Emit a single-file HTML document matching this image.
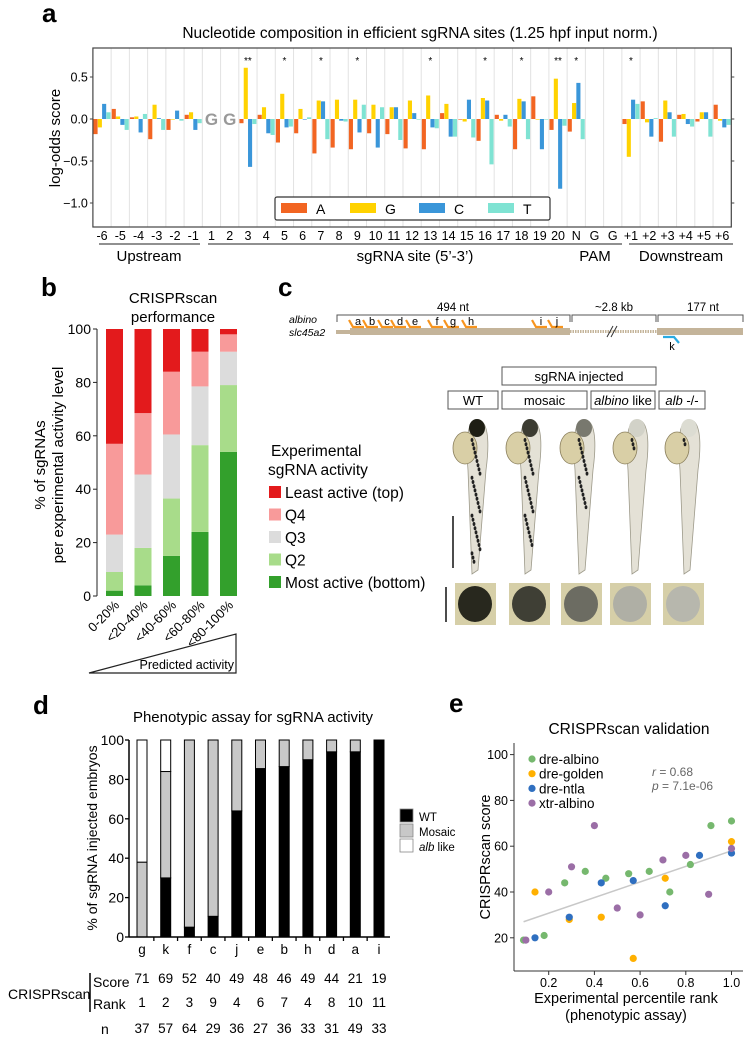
<!DOCTYPE html>
<html><head><meta charset="utf-8">
<style>
html,body{margin:0;padding:0;background:#fff;}
svg{display:block;font-family:"Liberation Sans",Arial,sans-serif;}
</style></head>
<body>
<svg id="fig" width="753" height="1046" viewBox="0 0 753 1046" xmlns="http://www.w3.org/2000/svg">
<text x="42" y="22" font-size="26" font-weight="bold">a</text>
<text x="41" y="296" font-size="26" font-weight="bold">b</text>
<text x="278" y="296" font-size="26" font-weight="bold">c</text>
<text x="33" y="714" font-size="26" font-weight="bold">d</text>
<text x="449" y="712" font-size="26" font-weight="bold">e</text>

<g id="pa"></g>
<g id="pb"></g>
<g id="pc"></g>
<g id="pd"></g>
<g id="pe"></g>
</svg>
<script>
const NS='http://www.w3.org/2000/svg';
function mk(tag,attrs,parent){const e=document.createElementNS(NS,tag);for(const k in attrs)e.setAttribute(k,attrs[k]);parent.appendChild(e);return e;}
function tx(str,attrs,parent){const e=mk('text',attrs,parent);e.textContent=str;return e;}

/* ================= PANEL A ================= */
const aCols=['-6','-5','-4','-3','-2','-1','1','2','3','4','5','6','7','8','9','10','11','12','13','14','15','16','17','18','19','20','N','G','G','+1','+2','+3','+4','+5','+6'];
const aValsA=[-0.18,0.12,0.02,-0.24,-0.13,0.05,null,null,-0.05,0.05,-0.28,-0.17,-0.41,-0.34,-0.36,-0.17,-0.18,-0.35,-0.36,0.07,0,-0.26,0.05,-0.36,0.27,-0.13,-0.15,null,null,-0.06,0.21,-0.27,0.05,-0.03,0.17];
const aValsG=[-0.10,0.03,0.03,0.17,0,0.08,null,null,0.61,0.14,0.30,0.12,0.22,0.23,0.23,0.17,0.14,0.22,0.28,0.18,-0.03,0.25,-0.02,0.24,0,0.48,0.19,null,null,-0.45,-0.04,0.22,0.06,0.08,-0.02];
const aValsC=[0.18,-0.07,-0.16,0.01,0.10,-0.13,null,null,-0.57,-0.17,-0.10,0,0.21,-0.02,-0.16,-0.34,0.14,0.07,-0.10,-0.21,0.23,0.22,0.05,0.21,-0.36,-0.83,0.43,null,null,0.23,-0.21,0.08,-0.06,0.08,-0.10];
const aValsT=[0.08,-0.13,0.06,-0.13,-0.02,-0.05,null,null,-0.06,-0.19,-0.09,0.02,-0.24,-0.03,0.17,0.14,-0.25,0,-0.11,-0.21,-0.22,-0.54,-0.09,-0.24,0,-0.08,-0.24,null,null,0.18,0.01,-0.21,-0.09,-0.21,-0.07];
const aStars=['','','','','','','','','**','','*','','*','','*','','','','*','','','*','','*','','**','*','','','*','','','','',''];
const aYTicks=[0.5,0,-0.5,-1.0];
const aYTickLabels=['0.5','0.0','\u22120.5','\u22121.0'];
const aNucs=['A','G','C','T'];
(function(){
 const g=document.getElementById('pa');
 const L=92.9,W=18.24,T=48,B=227,R=L+35*W;
 const y=v=>119-v*84, x=i=>L+i*W;
 const cols=['#f26522','#ffd200','#3a96d9','#7fe3d3'];
 const series=[aValsA,aValsG,aValsC,aValsT];
 let t=tx('Nucleotide composition in efficient sgRNA sites (1.25 hpf input norm.)',{x:420,y:38,'font-size':15.5,'text-anchor':'middle'},g);
 
 
 for(let i=1;i<35;i++){const l=mk('line',{x1:x(i),x2:x(i),y1:T,y2:B,stroke:'#e2e2e2','stroke-width':1},g);
  
  }
 aCols.forEach((c,i)=>{
  series.forEach((s,j)=>{
   const v=s[i]; if(v===null) return;
   const y0=y(0),y1=y(v);
   const r=mk('rect',{x:x(i)+0.6+j*4.3,y:Math.min(y0,y1),width:4.1,height:Math.max(0.6,Math.abs(y1-y0)),fill:cols[j]},g);
   
   
  });
  if(aStars[i]){const s=tx(aStars[i],{x:x(i)+W/2,y:64,'font-size':10,'text-anchor':'middle'},g);
   
   }
  const lb=tx(c,{x:x(i)+W/2,y:240,'font-size':12.5,'text-anchor':'middle'},g);
  
  
 });
 [6,7].forEach(i=>{const gg=tx('G',{x:x(i)+W/2,y:125,'font-size':17,'font-weight':'bold',fill:'#999','text-anchor':'middle'},g);
  
  });
 const fr=mk('rect',{x:L,y:T,width:R-L,height:B-T,fill:'none',stroke:'#444','stroke-width':1.2},g);
 
 
 aYTicks.forEach((v,k)=>{
  const tk=mk('line',{x1:L-3,x2:L,y1:y(v),y2:y(v),stroke:'#444'},g);
  
  
  const tk2=mk('line',{x1:R,x2:R+3,y1:y(v),y2:y(v),stroke:'#444'},g);
  
  
  const lb=tx(aYTickLabels[k],{x:L-5,y:y(v)+4.5,'font-size':12.5,'text-anchor':'end'},g);
  
  
 });
 const yl=tx('log-odds score',{x:0,y:0,'font-size':15,'text-anchor':'middle',transform:'translate(60,138) rotate(-90)'},g);
 
 
 const lg=mk('rect',{x:275,y:197,width:275,height:23,rx:2,fill:'#fff',stroke:'#333','stroke-width':1.2},g);
 
 
 aNucs.forEach((n,j)=>{
  const sw=mk('rect',{x:281+j*69,y:203,width:26,height:10,fill:cols[j]},g);
  
  
  const lt=tx(n,{x:316+j*69,y:214,'font-size':14},g);
  
  
 });
 const groups=[['Upstream',99,200,149],['sgRNA site (5\u2019-3\u2019)',208,622,415],['PAM',0,0,595],['Downstream',629,733,681]];
 groups.forEach(gr=>{
  if(gr[2]){const l=mk('line',{x1:gr[1],x2:gr[2],y1:244,y2:244,stroke:'#222','stroke-width':1},g);
   
   }
  const t=tx(gr[0],{x:gr[3],y:261,'font-size':15,'text-anchor':'middle'},g);
  
  
 });
})();

/* ================= PANEL B ================= */
const bCats=['0-20%','<20-40%','<40-60%','<60-80%','<80-100%'];
const bMost=[2,4,15,24,54];
const bQ2=[7,14,21.5,32.5,25];
const bQ3=[14,27.5,24,22,12.5];
const bQ4=[34,23,23.5,13,6.5];
const bLeast=[43,31.5,16,8.5,2];
const bTicks=[0,20,40,60,80,100];
(function(){
 const g=document.getElementById('pb');
 const y=v=>596-v*2.67;
 const series=[bMost,bQ2,bQ3,bQ4,bLeast];
 const cols=['#33a02c','#a8dc8a','#dcdcdc','#f89a9a','#e31a1c'];
 const names=['most-active','q2','q3','q4','least-active'];
 let t=tx('CRISPRscan',{x:173,y:303,'font-size':15,'text-anchor':'middle'},g);
 
 
 t=tx('performance',{x:173,y:322,'font-size':15,'text-anchor':'middle'},g);
 
 
 bCats.forEach((c,i)=>{
  let acc=0; const bx=106+i*28.5;
  series.forEach((s,j)=>{
   const r=mk('rect',{x:bx,y:y(acc+s[i]),width:17,height:s[i]*2.67,fill:cols[j]},g);
   
   
   acc+=s[i];
  });
  const lb=tx(c,{x:0,y:0,'font-size':13,'text-anchor':'end',transform:'translate('+(bx+14)+',606) rotate(-45)'},g);
  
  
 });
 const ax=mk('line',{x1:97,x2:97,y1:329,y2:596,stroke:'#222'},g);
 
 
 bTicks.forEach(v=>{
  const tk=mk('line',{x1:93,x2:97,y1:y(v),y2:y(v),stroke:'#222'},g);
  
  
  const lb=tx(String(v),{x:91,y:y(v)+5,'font-size':14,'text-anchor':'end'},g);
  
  
 });
 t=tx('% of sgRNAs',{x:0,y:0,'font-size':15,'text-anchor':'middle',transform:'translate(45,465) rotate(-90)'},g);
 
 
 t=tx('per experimental activity level',{x:0,y:0,'font-size':15,'text-anchor':'middle',transform:'translate(63,465) rotate(-90)'},g);
 
 
 const tri=mk('path',{d:'M89,673 L236,673 L236,634 Z',fill:'none',stroke:'#222','stroke-width':1.2},g);
 
 
 t=tx('Predicted activity',{x:234,y:669,'font-size':12.5,'text-anchor':'end'},g);
 
 
 t=tx('Experimental',{x:271,y:456,'font-size':15.5},g);
 
 
 t=tx('sgRNA activity',{x:268,y:475,'font-size':15.5},g);
 
 
 const legNames=['Least active (top)','Q4','Q3','Q2','Most active (bottom)'];
 const legCols=['#e31a1c','#f89a9a','#dcdcdc','#a8dc8a','#33a02c'];
 legNames.forEach((n,k)=>{
  const yy=492+k*22.5;
  const sw=mk('rect',{x:269,y:yy-6,width:12,height:12,fill:legCols[k]},g);
  
  
  const lt=tx(n,{x:285,y:yy+6,'font-size':15.5},g);
  
  
 });
})();

/* ================= PANEL C ================= */
(function(){
 const g=document.getElementById('pc');
 let t=tx('albino',{x:289,y:323,'font-size':10.5,'font-style':'italic'},g);
 
 
 t=tx('slc45a2',{x:289,y:336,'font-size':10.5,'font-style':'italic'},g);
 
 
 let r=mk('rect',{x:336,y:330,width:14,height:4,fill:'#c4b49a'},g);
 
 r=mk('rect',{x:350,y:328,width:220,height:7,fill:'#c4b49a'},g);
 
 r=mk('line',{x1:570,x2:657,y1:331.5,y2:331.5,stroke:'#c4b49a','stroke-width':3,'stroke-dasharray':'1.5,1'},g);
 
 r=mk('rect',{x:657,y:328,width:86,height:7,fill:'#c4b49a'},g);
 
 r=mk('path',{d:'M607,337 L613,326 M611,337 L617,326',stroke:'#333','stroke-width':1},g);
 
 [[337,570,'494 nt',453],[572,656,'~2.8 kb',614],[658,743,'177 nt',703]].forEach(b=>{
  const p=mk('path',{d:'M'+b[0]+',322 L'+b[0]+',315 L'+b[1]+',315 L'+b[1]+',322',fill:'none',stroke:'#555'},g);
  
  const l=tx(b[2],{x:b[3],y:311,'font-size':11.5,'text-anchor':'middle'},g);
  
 });
 const sites=[['a',357],['b',371],['c',386],['d',399],['e',414],['f',436],['g',452],['h',470],['i',540],['j',556]];
 sites.forEach(s=>{
  const p=mk('path',{d:'M'+(s[1]-8)+',320 L'+(s[1]-4)+',327 L'+(s[1]+7)+',327',fill:'none',stroke:'#f7941d','stroke-width':2.2},g);
  
  const l=tx(s[0],{x:s[1]+1,y:325,'font-size':11,'text-anchor':'middle'},g);
  
 });
 let p=mk('path',{d:'M663,337 L674,337 L679,343',fill:'none',stroke:'#29abe2','stroke-width':2.2},g);
 
 t=tx('k',{x:672,y:350,'font-size':11,'text-anchor':'middle'},g);
 
 const boxes=[[502,367,154,18,'sgRNA injected',false],[448,391,50,18,'WT',false],[502,391,85,18,'mosaic',false],[591,391,64,18,'albino|| like',true],[659,391,46,18,'alb|| -/-',true]];
 boxes.forEach(b=>{
  const rr=mk('rect',{x:b[0],y:b[1],width:b[2],height:b[3],fill:'#fff',stroke:'#555'},g);
  
  const tt=mk('text',{x:b[0]+b[2]/2,y:b[1]+14,'font-size':13,'text-anchor':'middle'},g);
  
  if(b[5]){const parts=b[4].split('||');const s1=document.createElementNS(NS,'tspan');s1.setAttribute('font-style','italic');s1.textContent=parts[0];tt.appendChild(s1);const s2=document.createElementNS(NS,'tspan');s2.textContent=parts[1];tt.appendChild(s2);}
  else tt.textContent=b[4];
 });
 const fishX=[474,527,581,634,686];
 const dark=[1,0.85,0.55,0.1,0.05];
 fishX.forEach((fx,k)=>{
  const fg=mk('g',{},g);
  
  mk('path',{d:'M'+(fx+2)+',420 C'+(fx+14)+',418 '+(fx+16)+',440 '+(fx+12)+',470 L'+(fx+4)+',570 L'+(fx-2)+',574 L'+(fx-6)+',470 C'+(fx-8)+',445 '+(fx-8)+',422 '+(fx+2)+',420 Z',fill:'#e4e1d6',stroke:'#9d9a8a','stroke-width':0.8},fg);
  mk('ellipse',{cx:fx-9,cy:448,rx:12,ry:16,fill:'#d9cfa6',stroke:'#8a7f5c','stroke-width':0.8},fg);
  const c=Math.round(30+200*(1-dark[k]));
  mk('ellipse',{cx:fx+3,cy:428,rx:8,ry:9,fill:'rgb('+c+','+c+','+(c-10)+')'},fg);
  for(let s=0;s<Math.round(dark[k]*30);s++){
   mk('ellipse',{cx:fx+2+((s*37)%9)-4,cy:440+s*4.2,rx:1.4,ry:2,fill:'#222'},fg);
  }
  const eyeX=[455,509,561,610,663][k];
  const ec=Math.round(40+150*(1-dark[k]));
  const sq=mk('rect',{x:eyeX,y:583,width:41,height:42,fill:'#d6cfa8'},g);
  
  const ey=mk('ellipse',{cx:eyeX+20,cy:604,rx:17,ry:18,fill:'rgb('+ec+','+ec+','+(ec-10)+')'},g);
  
 });
 r=mk('line',{x1:453,x2:453,y1:516,y2:568,stroke:'#111','stroke-width':1.5},g);
 
 r=mk('line',{x1:446,x2:446,y1:587,y2:622,stroke:'#111','stroke-width':1.5},g);
 
})();

/* ================= PANEL D ================= */
const dCats=['g','k','f','c','j','e','b','h','d','a','i'];
const dWT=[0,30,5,10.5,64,85.5,86.5,90,94,94,100];
const dMosaic=[38,54,95,89.5,36,14.5,13.5,10,6,6,0];
const dAlb=[62,16,0,0,0,0,0,0,0,0,0];
const dScore=[71,69,52,40,49,48,46,49,44,21,19];
const dRank=[1,2,3,9,4,6,7,4,8,10,11];
const dN=[37,57,64,29,36,27,36,33,31,49,33];
const dTicks=[0,20,40,60,80,100];
(function(){
 const g=document.getElementById('pd');
 const y=v=>937-v*1.97, xc=i=>142+i*23.7;
 let t=tx('Phenotypic assay for sgRNA activity',{x:253,y:722,'font-size':15,'text-anchor':'middle'},g);
 
 const series=[dWT,dMosaic,dAlb],cols=['#000','#c8c8c8','#fff'],names=['wt','mosaic','alb-like'];
 dCats.forEach((c,i)=>{
  let acc=0;
  series.forEach((s,j)=>{
   if(s[i]<=0) return;
   const r=mk('rect',{x:xc(i)-5,y:y(acc+s[i]),width:10,height:s[i]*1.97,fill:cols[j],stroke:'#000','stroke-width':1},g);
   
   acc+=s[i];
  });
  const rows=[[c,954],[dScore[i],983],[dRank[i],1007],[dN[i],1033]];
  rows.forEach((rw,k)=>{
   const l=tx(String(rw[0]),{x:xc(i),y:rw[1],'font-size':13.5,'text-anchor':'middle'},g);
   
   
  });
  if(i<10){const tk=mk('line',{x1:xc(i)+11.85,x2:xc(i)+11.85,y1:937,y2:941,stroke:'#000','stroke-width':1.3},g);
   }
 });
 let a=mk('line',{x1:129,x2:390,y1:937,y2:937,stroke:'#000','stroke-width':1.5},g);
 
 a=mk('line',{x1:129,x2:129,y1:740,y2:937,stroke:'#000','stroke-width':1.5},g);
 
 dTicks.forEach(v=>{
  const tk=mk('line',{x1:125,x2:129,y1:y(v),y2:y(v),stroke:'#000','stroke-width':1.3},g);
  
  const l=tx(String(v),{x:124,y:y(v)+5,'font-size':14,'text-anchor':'end'},g);
  
 });
 t=tx('% of sgRNA injected embryos',{x:0,y:0,'font-size':14,'text-anchor':'middle',transform:'translate(97,838) rotate(-90)'},g);
 
 [['WT','#000',809],['Mosaic','#c8c8c8',824],['alb like','#fff',839]].forEach((e,k)=>{
  const sw=mk('rect',{x:400,y:e[2],width:13,height:13,fill:e[1],stroke:'#888','stroke-width':0.8},g);
  
  const lt=mk('text',{x:419,y:e[2]+12,'font-size':11.5},g);
  
  if(k==2){const s1=document.createElementNS(NS,'tspan');s1.setAttribute('font-style','italic');s1.textContent='alb';lt.appendChild(s1);const s2=document.createElementNS(NS,'tspan');s2.textContent=' like';lt.appendChild(s2);}
  else lt.textContent=e[0];
 });
 t=tx('CRISPRscan',{x:8,y:999,'font-size':14},g);
 
 a=mk('line',{x1:90,x2:90,y1:973,y2:1012,stroke:'#000','stroke-width':1.5},g);
 
 t=tx('Score',{x:93,y:987,'font-size':14},g);
 
 t=tx('Rank',{x:93,y:1009,'font-size':14},g);
 
 t=tx('n',{x:101,y:1034,'font-size':14},g);
 
})();

/* ================= PANEL E ================= */
const eAlbinoX=[0.09,0.18,0.27,0.36,0.45,0.55,0.64,0.73,0.82,0.91,1.0];
const eAlbinoY=[19,21,44,49,46,48,49,40,52,69,71];
const eGoldenX=[0.14,0.29,0.43,0.57,0.71,1.0];
const eGoldenY=[40,28,29,11,46,62];
const eNtlaX=[0.14,0.29,0.43,0.57,0.71,0.86,1.0];
const eNtlaY=[20,29,44,45,34,56,57];
const eXtrX=[0.1,0.2,0.3,0.4,0.5,0.6,0.7,0.8,0.9,1.0];
const eXtrY=[19,40,51,69,33,30,54,56,39,59];
const eFitX=[0.09,1.0];
const eFitY=[27,58];
const eXTicks=[0.2,0.4,0.6,0.8,1.0];
const eYTicks=[20,40,60,80,100];
(function(){
 const g=document.getElementById('pe');
 const x=v=>503+v*228.5, y=v=>983.6-v*2.29;
 let t=tx('CRISPRscan validation',{x:629,y:734,'font-size':15.5,'text-anchor':'middle'},g);
 
 let a=mk('line',{x1:514,x2:514,y1:743,y2:971,stroke:'#333','stroke-width':1},g);
 
 a=mk('line',{x1:514,x2:743,y1:971,y2:971,stroke:'#333','stroke-width':1},g);
 
 eXTicks.forEach(v=>{
  const tk=mk('line',{x1:x(v),x2:x(v),y1:971,y2:975,stroke:'#333'},g);
  
  const l=tx(v.toFixed(1),{x:x(v),y:987,'font-size':12.5,'text-anchor':'middle'},g);
  
 });
 eYTicks.forEach(v=>{
  const tk=mk('line',{x1:510,x2:514,y1:y(v),y2:y(v),stroke:'#333'},g);
  
  const l=tx(String(v),{x:508,y:y(v)+4.5,'font-size':12.5,'text-anchor':'end'},g);
  
 });
 const fit=mk('line',{x1:x(eFitX[0]),y1:y(eFitY[0]),x2:x(eFitX[1]),y2:y(eFitY[1]),stroke:'#c8c8c8','stroke-width':1.5},g);
 
 const ser=[[eAlbinoX,eAlbinoY,'#76b86e','dre-albino'],[eGoldenX,eGoldenY,'#ffb000','dre-golden'],[eNtlaX,eNtlaY,'#2f6fc0','dre-ntla'],[eXtrX,eXtrY,'#9b6ea6','xtr-albino']];
 ser.forEach((s,k)=>{
  s[0].forEach((xv,i)=>{
   const c=mk('circle',{cx:x(xv),cy:y(s[1][i]),r:3.6,fill:s[2]},g);
   
  });
  const lc=mk('circle',{cx:532,cy:759+k*14.7,r:3.6,fill:s[2]},g);
  
  const lt=tx(s[3],{x:539,y:764+k*14.7,'font-size':13.5},g);
  
 });
 let st=mk('text',{x:652,y:776,'font-size':12,fill:'#666'},g);
 
 st.innerHTML='<tspan font-style="italic">r</tspan> = 0.68';
 st=mk('text',{x:652,y:790,'font-size':12,fill:'#666'},g);
 
 st.innerHTML='<tspan font-style="italic">p</tspan> = 7.1e-06';
 t=tx('Experimental percentile rank',{x:626,y:1003,'font-size':14.5,'text-anchor':'middle'},g);
 
 t=tx('(phenotypic assay)',{x:626,y:1020,'font-size':14.5,'text-anchor':'middle'},g);
 
 t=tx('CRISPRscan score',{x:0,y:0,'font-size':14.5,'text-anchor':'middle',transform:'translate(490,857) rotate(-90)'},g);
 
})();
</script>
</body></html>
